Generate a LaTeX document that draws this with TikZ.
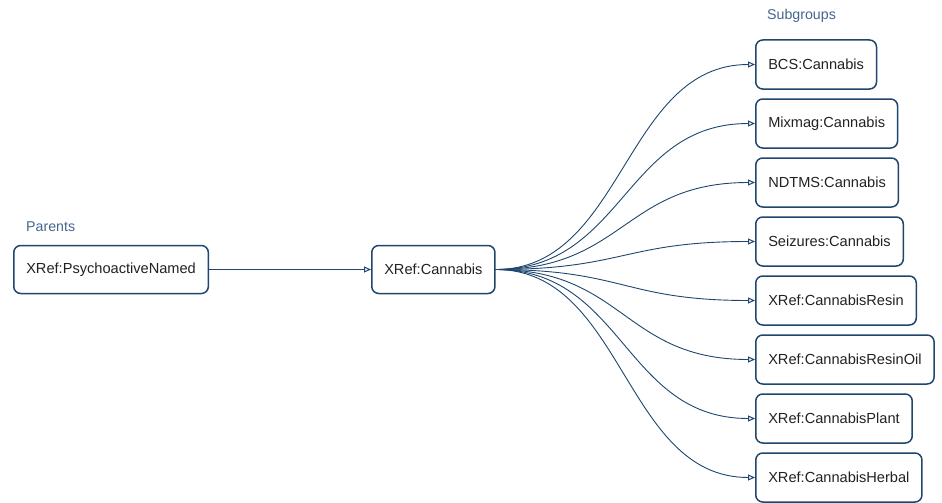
\documentclass[tikz,border=0pt]{standalone}
\usepackage{fontspec}
\setmainfont{Liberation Sans}
\usetikzlibrary{arrows.meta,calc}
\definecolor{linec}{HTML}{1E466E}
\definecolor{labc}{HTML}{44658F}
\definecolor{txtc}{HTML}{222222}
\begin{document}
\begin{tikzpicture}[x=1pt,y=-1pt,
  box/.style={draw=linec, line width=1.5pt, rounded corners=7pt, fill=white,
    minimum height=48pt, inner xsep=12.5pt, text=txtc,
    font=\fontsize{14.6}{16}\selectfont},
  grp/.style={text=labc, anchor=west, inner sep=0pt, font=\fontsize{14.2}{16}\selectfont},
  conn/.style={draw=linec, line width=0.9pt, -{Triangle[open,length=7pt,width=6pt,line width=1pt]}}]
\useasboundingbox (0,0) rectangle (942,503);
\node[grp] (lp) at (26,227) {Parents};
\node[grp] (ls) at (767,16) {Subgroups};
\node[box, anchor=west] (p) at (13,269.5) {XRef:PsychoactiveNamed};
\node[box, anchor=west] (c) at (371,269.5) {XRef:Cannabis};
\node[box, anchor=west, minimum height=49pt] (s1) at (755,64.5) {BCS:Cannabis};
\node[box, anchor=west, minimum height=49pt] (s2) at (755,123.5) {Mixmag:Cannabis};
\node[box, anchor=west, minimum height=49pt] (s3) at (755,182.5) {NDTMS:Cannabis};
\node[box, anchor=west, minimum height=49pt] (s4) at (755,241.5) {Seizures:Cannabis};
\node[box, anchor=west, minimum height=49pt] (s5) at (755,300.5) {XRef:CannabisResin};
\node[box, anchor=west, minimum height=49pt] (s6) at (755,359.5) {XRef:CannabisResinOil};
\node[box, anchor=west, minimum height=49pt] (s7) at (755,418.5) {XRef:CannabisPlant};
\node[box, anchor=west, minimum height=49pt] (s8) at (755,477.5) {XRef:CannabisHerbal};
\coordinate (mid) at (624,0);
\draw[conn] (p.east) -- (c.west);
\foreach \s in {s1,s2,s3,s4,s5,s6,s7,s8}{
  \draw[conn] (c.east) .. controls (c.east -| mid) and (\s.west -| mid) .. (\s.west);
}
\end{tikzpicture}
\end{document}
